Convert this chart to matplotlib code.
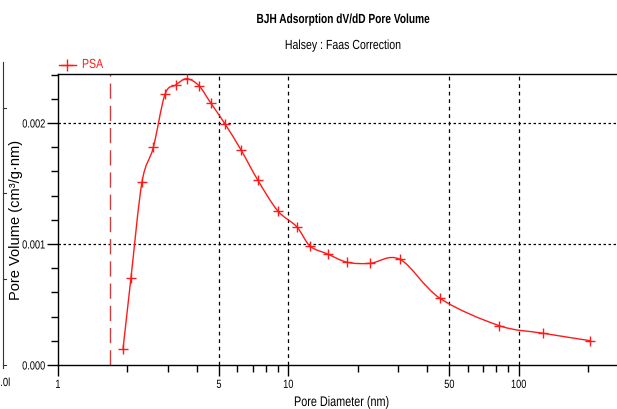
import numpy as np
import matplotlib
matplotlib.use("Agg")
import matplotlib.pyplot as plt
from matplotlib.path import Path
from matplotlib.patches import PathPatch
from matplotlib.patheffects import AbstractPathEffect
from matplotlib.transforms import Affine2D
from matplotlib.ticker import FixedLocator, NullFormatter, LogLocator

# BJH adsorption dV/dD pore-size distribution, sample PSA
pore_diameter_nm = [1.915, 2.074, 2.315, 2.593, 2.913, 3.243, 3.618, 4.09, 4.61,
                    5.32, 6.23, 7.36, 8.98, 10.87, 12.41, 14.81, 18.01, 22.6,
                    30.5, 45.5, 82.3, 127.8, 203.7]
pore_volume = [0.000132, 0.000722, 0.001512, 0.001799, 0.002237, 0.002314,
               0.002366, 0.002308, 0.002163, 0.001989, 0.001777, 0.001529,
               0.001275, 0.001143, 0.000983, 0.000917, 0.000849, 0.000840,
               0.000873, 0.000551, 0.000325, 0.000262, 0.000201]
x_tick_values = [1, 5, 10, 50, 100]
x_tick_labels = ["1", "5", "10", "50", "100"]
y_tick_values = [0.000, 0.001, 0.002]
y_tick_labels = ["0.000", "0.001", "0.002"]
lower_limit_nm = 1.68
series_name = "PSA"

plt.rcParams["font.family"] = ["Liberation Sans", "DejaVu Sans"]


class Narrow(AbstractPathEffect):
    """Draw glyph outlines compressed horizontally (a narrow face look)."""

    def __init__(self, sx=0.8, align=0.0):
        super().__init__()
        self.sx = sx
        self.align = align

    def draw_path(self, renderer, gc, tpath, affine, rgbFace=None):
        v = tpath.vertices
        w = float(v[:, 0].max()) if len(v) else 0.0
        a = self.align * w
        t = Affine2D().translate(-a, 0).scale(self.sx, 1).translate(a, 0) + affine
        renderer.draw_path(gc, tpath, t, rgbFace)


W, H = 617, 409
fig = plt.figure(figsize=(W / 100, H / 100), dpi=100)
fig.patch.set_facecolor("white")

left, right, top, bottom = 58, 617, 74, 365
ax = fig.add_axes([left / W, 1 - bottom / H, (right - left) / W, (bottom - top) / H])

red = "#ff1a1a"


def smooth_path(xs, ys):
    """Catmull-Rom style Bezier through the points, built in log-x space."""
    lx = np.log10(xs)
    y = np.asarray(ys, float)
    n = len(lx)
    verts = [(xs[0], y[0])]
    codes = [Path.MOVETO]
    for i in range(n - 1):
        p0 = (lx[max(i - 1, 0)], y[max(i - 1, 0)])
        p1 = (lx[i], y[i])
        p2 = (lx[i + 1], y[i + 1])
        p3 = (lx[min(i + 2, n - 1)], y[min(i + 2, n - 1)])
        c1 = (p1[0] + (p2[0] - p0[0]) / 6, p1[1] + (p2[1] - p0[1]) / 6)
        c2 = (p2[0] - (p3[0] - p1[0]) / 6, p2[1] - (p3[1] - p1[1]) / 6)
        for c in (c1, c2, p2):
            verts.append((10 ** c[0], c[1]))
            codes.append(Path.CURVE4)
    return Path(verts, codes)


ax.set_xscale("log")
ax.set_xlim(1, 10 ** ((right - left) / 230.4))
ax.set_ylim(0, (bottom - top) / 121.0 * 0.001)

# grid lines
for xv in [5, 10, 50, 100]:
    ax.axvline(xv, color="black", lw=0.9, linestyle=(0, (3, 3)), zorder=1)
for yv in [0.001, 0.002]:
    ax.axhline(yv, color="black", lw=0.9, linestyle=(0, (2, 2)), zorder=1)

# lower pore-size limit marker
ax.axvline(lower_limit_nm, color="#c8403f", lw=1.0, linestyle=(0, (11, 5)), zorder=2)

patch = PathPatch(smooth_path(pore_diameter_nm, pore_volume), facecolor="none",
                  edgecolor=red, lw=1.0, zorder=3)
ax.add_patch(patch)
ax.plot(pore_diameter_nm, pore_volume, linestyle="none", marker="+", ms=7,
        mew=1.0, color=red, zorder=4)

# axes frame
ax.spines["right"].set_visible(False)
for s in ("left", "top", "bottom"):
    ax.spines[s].set_linewidth(1.0)
    ax.spines[s].set_color("black")

ax.xaxis.set_major_locator(FixedLocator(x_tick_values))
ax.set_xticklabels(x_tick_labels)
ax.xaxis.set_minor_locator(LogLocator(base=10, subs=np.arange(2, 10)))
ax.xaxis.set_minor_formatter(NullFormatter())
ax.yaxis.set_major_locator(FixedLocator(y_tick_values))
ax.set_yticklabels(y_tick_labels)
ax.yaxis.set_minor_locator(FixedLocator(np.arange(0, 0.0025, 0.0002)))

ax.tick_params(axis="both", which="major", direction="out", length=8, width=1,
               labelsize=8.5, pad=1, colors="black")
ax.tick_params(axis="both", which="minor", direction="out", length=5, width=1)
ax.tick_params(axis="x", which="major", pad=2)

ax.set_xlabel("Pore Diameter (nm)", fontsize=10,
              path_effects=[Narrow(0.78, 0.5)])
ax.xaxis.set_label_coords((342 - left) / (right - left), -(402 - bottom) / (bottom - top))
ax.xaxis.label.set_va("center")
ax.set_ylabel("Pore Volume (cm\u00b3/g\u00b7nm)", fontsize=10.5)
ax.yaxis.set_label_coords((16 - left) / (right - left), 0.5)
ax.yaxis.label.set_va("center")

fig.text(343 / W, 1 - 20 / H, "BJH Adsorption dV/dD Pore Volume", ha="center",
         va="center", fontsize=9.5, fontweight="bold",
         path_effects=[Narrow(0.77, 0.5)])
fig.text(343 / W, 1 - 46 / H, "Halsey : Faas Correction", ha="center",
         va="center", fontsize=9.5, path_effects=[Narrow(0.8, 0.5)])

# legend entry
fig.lines.append(plt.Line2D([59 / W, 76 / W], [1 - 65 / H] * 2, color=red, lw=1.0,
                            transform=fig.transFigure))
fig.lines.append(plt.Line2D([67 / W], [1 - 65 / H], color=red, marker="+", ms=8,
                            mew=1.0, transform=fig.transFigure))
fig.text(82 / W, 1 - 65 / H, series_name, color=red, fontsize=9.5, va="center",
         ha="left", path_effects=[Narrow(0.8, 0.0)])

# neighbouring panel edge
fig.lines.append(plt.Line2D([3 / W, 3 / W], [1 - 62 / H, 1 - 368 / H],
                            color="#333333", lw=0.8, transform=fig.transFigure))
for ty in [108, 193, 279, 365]:
    fig.lines.append(plt.Line2D([3 / W, 6 / W], [1 - ty / H] * 2, color="#333333",
                                lw=0.8, transform=fig.transFigure))
fig.text(-5 / W, 1 - 383 / H, "0.0l", fontsize=8.5, va="center", ha="left",
         path_effects=[Narrow(0.8, 0.0)])

fig.canvas.draw()
for lab in ax.get_xticklabels():
    lab.set_path_effects([Narrow(0.78, 0.5)])
for lab in ax.get_yticklabels():
    lab.set_path_effects([Narrow(0.78, 1.0)])

fig.savefig("out.png", dpi=100, facecolor="white")
